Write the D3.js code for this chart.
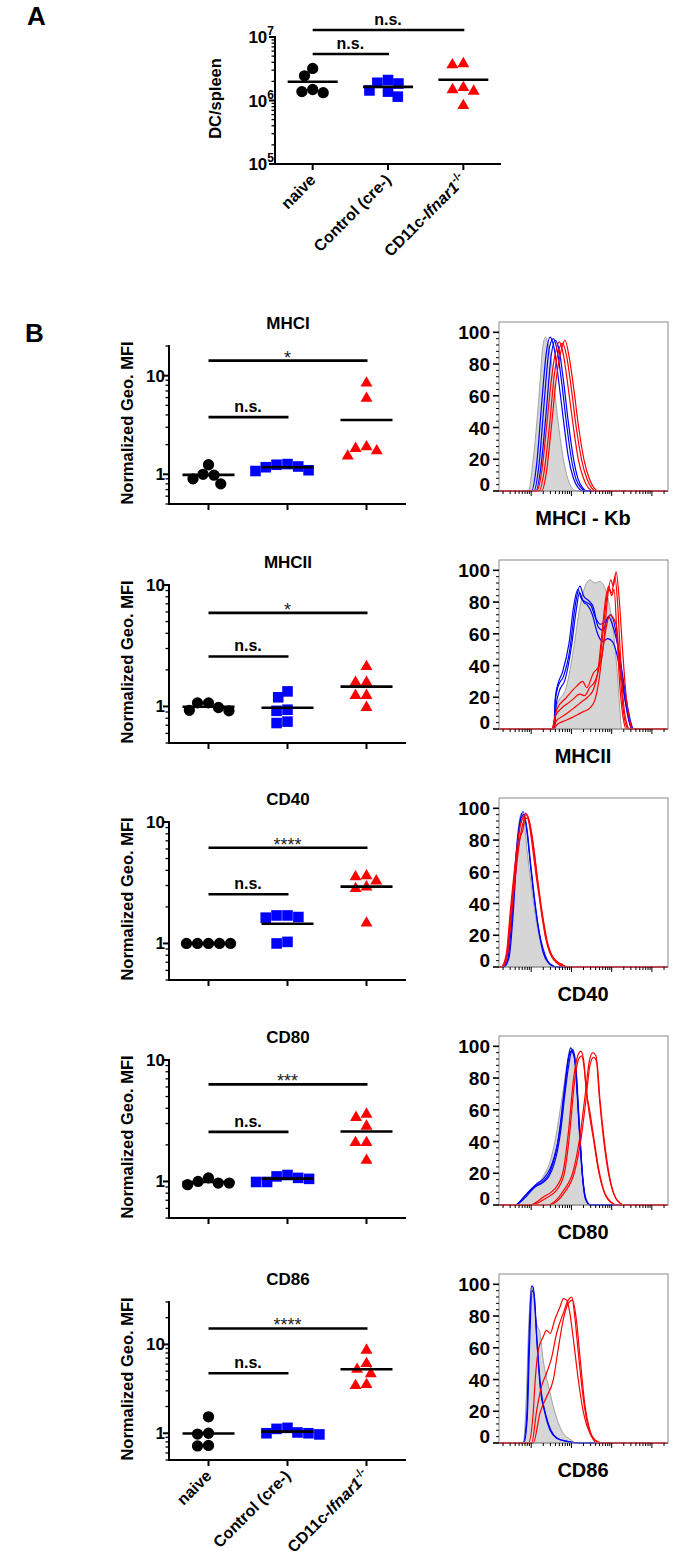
<!DOCTYPE html>
<html><head><meta charset="utf-8">
<script src="https://cdn.jsdelivr.net/npm/d3@7"></script>
<style>body{margin:0;background:#fff} svg{display:block} text{font-family:"Liberation Sans",Arial,Helvetica,sans-serif}</style>
</head><body><svg id="fig" width="692" height="1565"></svg>
<script>
// ---------------- DATA ----------------
const groupNames = ["naive", "Control (cre-)", "CD11c-Ifnar1-/-"];
const groupColors = ["#000000", "#0000ff", "#ff0000"];

// Panel A: DC per spleen
const dcNaive = [3.2e6, 2.45e6, 1.49e6, 1.33e6, 1.38e6];
const dcControl = [1.9e6, 2.1e6, 1.85e6, 1.44e6, 1.38e6, 1.15e6];
const dcKO = [3.65e6, 3.8e6, 1.48e6, 1.4e6, 1.6e6, 0.83e6];
const dcTicks = [1e5, 1e6, 1e7];
const dcSigValues = [1.29e7, 5.4e6];
const dcSigLabels = ["n.s.", "n.s."];

// Panel B: normalized Geo. MFI
const markerNames = ["MHCI", "MHCII", "CD40", "CD80", "CD86"];
const histAxisLabels = ["MHCI - Kb", "MHCII", "CD40", "CD80", "CD86"];
const mfiNaive = [
  [0.98, 1.25, 1.0, 0.8, 0.9],
  [1.07, 0.98, 0.92, 0.93, 1.07],
  [1.0, 1.0, 1.0, 1.0, 1.0],
  [1.07, 0.97, 0.94, 0.97, 1.0],
  [1.53, 0.98, 1.0, 0.72, 0.73]
];
const mfiControl = [
  [1.25, 1.27, 1.18, 1.1, 1.08, 1.2],
  [1.33, 1.19, 0.92, 0.94, 0.73, 0.75],
  [1.7, 1.65, 1.63, 1.7, 1.0, 1.03],
  [1.1, 1.05, 1.13, 1.07, 0.99, 0.99],
  [1.12, 1.15, 1.0, 0.97, 1.02, 1.0]
];
const mfiKO = [
  [8.4, 5.9, 1.83, 1.53, 1.73, 1.9],
  [2.13, 1.58, 1.58, 1.23, 1.23, 0.98],
  [3.53, 3.6, 3.27, 2.92, 2.83, 1.47],
  [3.58, 3.36, 2.85, 2.09, 2.09, 1.49],
  [8.6, 6.07, 5.23, 4.67, 3.44, 3.53]
];
const mfiMin = 0.5;
const mfiMax = [20, 10, 10, 10, 30];
const mfiTicks = [1, 10];
const sigTopLabels = ["*", "*", "****", "***", "****"];
const sigTopValues = [14.2, 5.9, 6.13, 6.3, 15.1];
const sigLowLabels = ["n.s.", "n.s.", "n.s.", "n.s.", "n.s."];
const sigLowValues = [3.8, 2.58, 2.54, 2.56, 4.74];

// Histograms: [log10 fluorescence, % of max]
const histYTicks = [0, 20, 40, 60, 80, 100];
const histXDomain = [1.2, 5.4];
const histGrey = [
  [[1.93,0],[2.05,20],[2.18,55],[2.30,93],[2.36,97],[2.42,92],[2.51,80],[2.63,52],[2.80,20],[2.92,7],[3.05,1],[3.15,0]],
  [[2.57,0],[2.63,14],[2.88,27],[3.05,50],[3.21,77],[3.34,90],[3.46,94],[3.59,92],[3.71,93],[3.79,91],[3.92,81],[4.04,62],[4.14,35],[4.21,10],[4.25,0]],
  [[1.3,0],[1.42,8],[1.56,46],[1.68,88],[1.76,97],[1.82,93],[1.89,75],[1.97,58],[2.05,42],[2.14,27],[2.22,17],[2.3,9],[2.38,4],[2.55,0]],
  [[1.64,0],[1.80,5],[2.05,10],[2.30,18],[2.5,30],[2.64,47],[2.72,60],[2.80,73],[2.88,88],[2.98,99],[3.09,94],[3.19,58],[3.28,16],[3.36,2],[3.46,0]],
  [[1.8,0],[1.88,30],[1.93,69],[2.01,99],[2.06,90],[2.14,75],[2.22,69],[2.3,52],[2.43,36],[2.55,23],[2.67,13],[2.8,6],[2.96,2.5],[3.13,0]]
];
const histBlue = [
  [
    [[2.01,0],[2.14,18],[2.26,55],[2.38,88],[2.47,97],[2.57,90],[2.67,72],[2.80,45],[2.92,22],[3.05,8],[3.17,2],[3.28,0]],
    [[2.07,0],[2.2,18],[2.32,55],[2.45,90],[2.55,96],[2.65,88],[2.75,70],[2.88,42],[3.0,20],[3.12,7],[3.24,2],[3.34,0]],
    [[2.12,0],[2.25,17],[2.38,52],[2.50,86],[2.60,95],[2.70,88],[2.80,70],[2.92,44],[3.04,22],[3.16,8],[3.28,2],[3.38,0]]
  ],
  [
    [[2.57,0],[2.60,18],[2.67,27],[2.80,33],[2.96,50],[3.09,77],[3.21,90],[3.30,84],[3.42,81],[3.54,77],[3.67,64],[3.79,62],[3.92,71],[4.04,64],[4.17,50],[4.29,31],[4.41,12],[4.50,2],[4.54,0]],
    [[2.58,0],[2.62,15],[2.70,24],[2.84,31],[3.0,52],[3.12,75],[3.2,86],[3.3,80],[3.4,78],[3.52,72],[3.65,60],[3.78,55],[3.9,57],[4.02,55],[4.14,46],[4.26,30],[4.38,12],[4.47,2],[4.52,0]],
    [[2.56,0],[2.6,20],[2.66,28],[2.78,36],[2.94,54],[3.06,78],[3.16,88],[3.25,82],[3.36,80],[3.48,78],[3.6,70],[3.72,66],[3.85,68],[3.98,72],[4.1,62],[4.22,40],[4.34,17],[4.45,3],[4.5,0]]
  ],
  [
    [[1.3,0],[1.42,5],[1.52,30],[1.62,70],[1.72,92],[1.8,98],[1.88,88],[1.97,67],[2.06,46],[2.14,31],[2.22,18],[2.3,9],[2.42,3],[2.63,0]],
    [[1.32,0],[1.45,6],[1.55,33],[1.65,72],[1.74,93],[1.82,96],[1.9,86],[1.99,64],[2.08,44],[2.16,28],[2.25,16],[2.34,8],[2.46,2],[2.66,0]]
  ],
  [
    [[1.6,0],[1.72,2],[1.89,7],[2.10,12],[2.30,15],[2.45,20],[2.55,27],[2.65,38],[2.72,50],[2.80,68],[2.90,88],[2.98,99],[3.05,95],[3.09,90],[3.17,58],[3.26,22],[3.34,5],[3.46,0]],
    [[1.62,0],[1.75,3],[1.92,8],[2.12,13],[2.32,17],[2.47,23],[2.58,31],[2.68,42],[2.76,56],[2.84,74],[2.92,92],[3.0,97],[3.06,95],[3.11,86],[3.19,52],[3.28,18],[3.36,4],[3.48,0]],
    [[1.6,0],[1.74,2],[1.9,6],[2.08,11],[2.28,14],[2.44,18],[2.56,25],[2.66,35],[2.74,48],[2.82,66],[2.92,86],[2.99,96],[3.04,98],[3.1,88],[3.18,56],[3.27,20],[3.35,4],[3.46,0]]
  ],
  [
    [[1.8,0],[1.89,17],[1.95,69],[2.01,99],[2.05,98],[2.14,65],[2.22,36],[2.34,19],[2.47,8],[2.63,3],[2.88,1],[3.2,0]],
    [[1.82,0],[1.9,15],[1.96,62],[2.02,96],[2.07,94],[2.15,62],[2.24,34],[2.36,18],[2.49,8],[2.65,3],[2.9,1],[3.2,0]]
  ]
];
const histRed = [
  [
    [[2.14,0],[2.26,12],[2.38,40],[2.51,72],[2.63,90],[2.70,94],[2.80,86],[2.92,65],[3.05,40],[3.17,20],[3.30,8],[3.42,2],[3.55,0]],
    [[2.2,0],[2.32,12],[2.45,40],[2.57,72],[2.70,90],[2.78,93],[2.88,85],[3.0,64],[3.12,40],[3.25,20],[3.38,8],[3.50,2],[3.62,0]],
    [[2.26,0],[2.38,12],[2.50,40],[2.63,72],[2.76,90],[2.84,95],[2.94,85],[3.06,64],[3.18,40],[3.31,20],[3.44,8],[3.56,2],[3.68,0]]
  ],
  [
    [[2.51,0],[2.63,12],[2.88,20],[3.13,27],[3.28,30],[3.38,26],[3.54,35],[3.71,41],[3.81,56],[3.89,81],[3.98,94],[4.04,90],[4.11,99],[4.19,81],[4.27,50],[4.37,18],[4.46,4],[4.5,0]],
    [[2.52,0],[2.6,8],[2.75,13],[2.9,16],[3.05,19],[3.2,22],[3.33,21],[3.45,26],[3.58,30],[3.68,38],[3.76,55],[3.84,75],[3.92,88],[4.0,86],[4.08,96],[4.15,78],[4.22,45],[4.3,15],[4.38,3],[4.44,0]],
    [[2.53,0],[2.62,5],[2.78,8],[2.95,11],[3.1,14],[3.25,17],[3.4,20],[3.55,25],[3.65,35],[3.75,58],[3.85,82],[3.93,90],[4.0,84],[4.06,88],[4.13,60],[4.2,28],[4.28,8],[4.36,0]],
    [[2.55,0],[2.65,3],[2.82,5],[3.0,7],[3.15,9],[3.3,11],[3.45,13],[3.58,18],[3.68,30],[3.78,50],[3.88,66],[3.96,72],[4.04,70],[4.12,65],[4.2,40],[4.28,14],[4.36,2],[4.42,0]]
  ],
  [
    [[1.25,0],[1.38,8],[1.48,35],[1.6,65],[1.72,88],[1.82,95],[1.9,96],[1.98,88],[2.06,75],[2.14,58],[2.22,42],[2.3,28],[2.38,17],[2.48,9],[2.6,4],[2.75,2],[2.9,0]],
    [[1.28,0],[1.4,6],[1.5,30],[1.62,60],[1.74,84],[1.84,93],[1.92,94],[2.0,86],[2.08,72],[2.16,55],[2.24,40],[2.32,27],[2.4,16],[2.5,8],[2.62,4],[2.78,1],[2.92,0]],
    [[1.26,0],[1.39,7],[1.49,33],[1.61,63],[1.73,82],[1.79,86],[1.86,97],[1.95,90],[2.04,74],[2.12,58],[2.2,44],[2.28,30],[2.36,18],[2.46,9],[2.58,4],[2.72,1],[2.88,0]]
  ],
  [
    [[1.97,0],[2.3,5],[2.64,12],[2.80,22],[2.93,47],[3.05,79],[3.17,95],[3.23,97],[3.30,92],[3.36,75],[3.42,62],[3.55,41],[3.67,22],[3.80,9],[3.96,2],[4.13,0]],
    [[2.0,0],[2.35,4],[2.68,11],[2.84,22],[2.96,46],[3.07,76],[3.18,92],[3.25,94],[3.31,88],[3.38,70],[3.45,60],[3.57,40],[3.69,21],[3.82,8],[3.98,2],[4.15,0]],
    [[2.39,0],[2.80,9],[3.05,22],[3.21,43],[3.34,69],[3.44,90],[3.53,96],[3.61,94],[3.69,69],[3.80,41],[3.92,20],[4.05,7],[4.21,1],[4.3,0]],
    [[2.42,0],[2.83,8],[3.08,21],[3.24,42],[3.36,66],[3.46,88],[3.55,93],[3.63,90],[3.71,66],[3.82,40],[3.94,19],[4.07,6],[4.22,1],[4.32,0]]
  ],
  [
    [[1.93,0],[2.05,19],[2.09,36],[2.18,59],[2.3,67],[2.38,71],[2.47,69],[2.59,78],[2.72,86],[2.8,91],[2.88,90],[2.96,82],[3.05,65],[3.17,40],[3.3,19],[3.46,6],[3.63,1],[3.8,0]],
    [[2.01,0],[2.14,21],[2.26,36],[2.38,44],[2.51,54],[2.63,69],[2.8,82],[2.92,90],[3.01,92],[3.09,78],[3.17,57],[3.3,27],[3.42,10],[3.59,2],[3.75,0]],
    [[2.05,0],[2.22,19],[2.38,29],[2.55,40],[2.67,59],[2.8,78],[2.92,88],[3.03,90],[3.13,76],[3.21,55],[3.34,23],[3.46,8],[3.63,0]]
  ]
];

// ---------------- DRAWING ----------------
const svg = d3.select("#fig");
svg.append("rect").attr("width", 692).attr("height", 1565).attr("fill", "#fff");

const symbolGens = [
  d3.symbol().type(d3.symbolCircle).size(100),
  d3.symbol().type(d3.symbolSquare).size(112),
  d3.symbol().type(d3.symbolTriangle).size(62)
];

function swarm(values, yScale, d) {
  const pts = values.map((v, i) => ({ v, y: yScale(v), i, x: 0 }));
  const order = pts.slice().sort((a, b) => a.y - b.y);
  const placed = [];
  for (const p of order) {
    const ints = [];
    for (const q of placed) {
      const dy = Math.abs(p.y - q.y);
      if (dy < d) { const w = Math.sqrt(d * d - dy * dy); ints.push([q.x - w, q.x + w]); }
    }
    const cands = [0];
    ints.forEach(([a, b]) => cands.push(a, b));
    cands.sort((a, b) => (Math.abs(a) - Math.abs(b)) || (a - b));
    p.x = cands.find(c => ints.every(([a, b]) => c <= a + 1e-6 || c >= b - 1e-6));
    placed.push(p);
  }
  return pts;
}

function groupLabel(sel) {
  sel.each(function (name) {
    const t = d3.select(this);
    if (name === "CD11c-Ifnar1-/-") {
      t.append("tspan").text("CD11c-");
      t.append("tspan").attr("font-style", "italic").text("Ifnar1");
      t.append("tspan").attr("font-size", 11).attr("dy", -7).text("-/-");
    } else {
      t.text(name);
    }
  });
}

function dotPlot(g, cfg) {
  const x = d3.scalePoint().domain(groupNames).range([cfg.x0, cfg.x1]).padding(0.5);
  const y = cfg.y;
  const [yb, yt] = y.range();
  const ax = g.append("g").attr("stroke", "#000").attr("stroke-width", 2).attr("fill", "none");
  ax.append("line").attr("x1", cfg.x0).attr("x2", cfg.x0).attr("y1", yt - 1).attr("y2", yb + 1);
  ax.append("line").attr("x1", cfg.x0).attr("x2", cfg.x1).attr("y1", yb).attr("y2", yb);
  cfg.minor.forEach(v => ax.append("line").attr("stroke-width", 1.3).attr("x1", cfg.x0 - 3.5).attr("x2", cfg.x0).attr("y1", y(v)).attr("y2", y(v)));
  cfg.major.forEach(v => ax.append("line").attr("x1", cfg.x0 - 6).attr("x2", cfg.x0).attr("y1", y(v)).attr("y2", y(v)));
  groupNames.forEach(n => ax.append("line").attr("x1", x(n)).attr("x2", x(n)).attr("y1", yb).attr("y2", yb + 6));
  // tick labels
  cfg.major.forEach(v => {
    const t = g.append("text").attr("x", cfg.labelX).attr("y", y(v) + 6).attr("text-anchor", "end")
      .attr("font-weight", "bold").attr("font-size", 17);
    cfg.tickText(t, v);
  });
  // points and means
  cfg.data.forEach((vals, gi) => {
    const cx = x(groupNames[gi]);
    const pts = swarm(vals, y, 11);
    g.selectAll(null).data(pts).join("path")
      .attr("transform", d => `translate(${cx + d.x},${d.y})`)
      .attr("d", symbolGens[gi]).attr("fill", groupColors[gi]);
    const m = d3.mean(vals);
    g.append("line").attr("x1", cx - cfg.half).attr("x2", cx + cfg.half)
      .attr("y1", y(m)).attr("y2", y(m)).attr("stroke", "#000").attr("stroke-width", 2.6);
  });
  // significance bars
  cfg.sig.forEach(s => {
    const x1 = x(groupNames[0]), x2 = x(groupNames[s.to]);
    const yy = y(s.value);
    g.append("line").attr("x1", x1).attr("x2", x2 + 1).attr("y1", yy).attr("y2", yy)
      .attr("stroke", "#000").attr("stroke-width", 2.6);
    const isStar = s.label.indexOf("*") >= 0;
    g.append("text").attr("x", (x1 + x2) / 2).attr("y", isStar ? yy + 3 : yy - 5)
      .attr("text-anchor", "middle")
      .attr("font-weight", isStar ? "normal" : "bold")
      .attr("font-size", isStar ? 18 : 16)
      .attr("fill", isStar ? "#222" : "#000")
      .text(s.label);
  });
  // category labels
  if (cfg.xLabels) {
    g.selectAll(null).data(groupNames).join("text")
      .attr("transform", n => `translate(${x(n) + 4},${yb + 17}) rotate(-45)`)
      .attr("text-anchor", "end").attr("font-weight", "bold").attr("font-size", 16)
      .call(groupLabel);
  }
  // y label
  g.append("text").attr("transform", `translate(${cfg.yLabelX},${(yt + yb) / 2 - 2}) rotate(-90)`)
    .attr("text-anchor", "middle").attr("font-weight", "bold").attr("font-size", 16.5).text(cfg.yLabel);
}

// Panel letters
svg.append("text").attr("x", 27).attr("y", 25).attr("font-weight", "bold").attr("font-size", 26).text("A");
svg.append("text").attr("x", 25).attr("y", 342).attr("font-weight", "bold").attr("font-size", 26).text("B");

// Panel A
{
  const y = d3.scaleLog().domain([1e5, 1e7]).range([164, 37]);
  const minor = [];
  [1e5, 1e6].forEach(d => d3.range(2, 10).forEach(k => minor.push(k * d)));
  dotPlot(svg.append("g"), {
    x0: 275, x1: 501, y, minor, major: dcTicks, labelX: 274,
    tickText: (t, v) => { t.append("tspan").text("10"); t.append("tspan").attr("font-size", 12).attr("dy", -8).text(Math.round(Math.log10(v))); },
    data: [dcNaive, dcControl, dcKO], half: 25,
    sig: [{ to: 2, value: dcSigValues[0], label: dcSigLabels[0] }, { to: 1, value: dcSigValues[1], label: dcSigLabels[1] }],
    xLabels: true, yLabel: "DC/spleen", yLabelX: 221
  });
}

// Panel B rows
const rowTops = [346, 585, 822, 1060, 1302];
const histTops = [322, 560, 798, 1036, 1274];
const plotH = 158, histH = 169;
const hx0 = 499, hx1 = 668;

markerNames.forEach((name, i) => {
  const top = rowTops[i];
  const y = d3.scaleLog().domain([mfiMin, mfiMax[i]]).range([top + plotH, top]);
  const minor = [];
  [0.1, 1, 10].forEach(d => d3.range(1, 10).forEach(k => { const v = k * d; if (v >= mfiMin - 1e-9 && v <= mfiMax[i] + 1e-9 && mfiTicks.indexOf(v) < 0) minor.push(v); }));
  const g = svg.append("g");
  g.append("text").attr("x", 288).attr("y", top - 17).attr("text-anchor", "middle")
    .attr("font-weight", "bold").attr("font-size", 17).text(name);
  dotPlot(g, {
    x0: 169, x1: 406, y, minor, major: mfiTicks, labelX: 165,
    tickText: (t, v) => t.text(v),
    data: [mfiNaive[i], mfiControl[i], mfiKO[i]], half: 26,
    sig: [{ to: 2, value: sigTopValues[i], label: sigTopLabels[i] }, { to: 1, value: sigLowValues[i], label: sigLowLabels[i] }],
    xLabels: i === markerNames.length - 1, yLabel: "Normalized Geo. MFI", yLabelX: 133
  });

  // Histogram
  const ht = histTops[i], hb = ht + histH;
  const xH = d3.scaleLinear().domain(histXDomain).range([hx0, hx1]);
  const yH = d3.scaleLinear().domain([0, 106.5]).range([hb, ht]);
  const hg = svg.append("g");
  const clipId = "clip" + i;
  hg.append("clipPath").attr("id", clipId).append("rect").attr("x", hx0).attr("y", ht).attr("width", hx1 - hx0).attr("height", histH + 1);
  const inner = hg.append("g").attr("clip-path", `url(#${clipId})`);
  const ext = c => [[histXDomain[0], 0], ...c, [histXDomain[1], 0]];
  const line = d3.line().x(d => xH(d[0])).y(d => yH(Math.max(0, d[1]))).curve(d3.curveMonotoneX);
  const area = d3.area().x(d => xH(d[0])).y0(yH(0)).y1(d => yH(Math.max(0, d[1]))).curve(d3.curveMonotoneX);
  inner.append("path").attr("d", area(ext(histGrey[i]))).attr("fill", "#d6d6d6").attr("stroke", "#999").attr("stroke-width", 0.9);
  histBlue[i].forEach(c => inner.append("path").attr("d", line(ext(c))).attr("fill", "none").attr("stroke", "#0000ff").attr("stroke-width", 1.2));
  histRed[i].forEach(c => inner.append("path").attr("d", line(ext(c))).attr("fill", "none").attr("stroke", "#ff0000").attr("stroke-width", 1.2));
  hg.append("rect").attr("x", hx0).attr("y", ht).attr("width", hx1 - hx0).attr("height", histH)
    .attr("fill", "none").attr("stroke", "#8a8a8a").attr("stroke-width", 1);
  // y ticks
  d3.range(0, 101, 4).forEach(v => {
    const major = histYTicks.indexOf(v) >= 0;
    hg.append("line").attr("x1", hx0 - (major ? 6 : 3)).attr("x2", hx0).attr("y1", yH(v)).attr("y2", yH(v))
      .attr("stroke", "#000").attr("stroke-width", major ? 1.6 : 1);
  });
  histYTicks.forEach(v => {
    hg.append("text").attr("x", 490).attr("y", yH(v) + 7 - (v === 0 ? 7 : 0)).attr("text-anchor", "end")
      .attr("font-weight", "bold").attr("font-size", 19).text(v);
  });
  // x ticks (log decades)
  [1, 2, 3, 4, 5].forEach(dd => {
    d3.range(1, 10).forEach(k => {
      const p = dd + Math.log10(k);
      if (p <= histXDomain[0] || p >= histXDomain[1]) return;
      const major = k === 1;
      hg.append("line").attr("x1", xH(p)).attr("x2", xH(p)).attr("y1", hb).attr("y2", hb + (major ? 5 : 3))
        .attr("stroke", "#000").attr("stroke-width", 1);
    });
  });
  hg.append("text").attr("x", 583).attr("y", hb + 34).attr("text-anchor", "middle")
    .attr("font-weight", "bold").attr("font-size", 20).text(histAxisLabels[i]);
});
</script></body></html>
